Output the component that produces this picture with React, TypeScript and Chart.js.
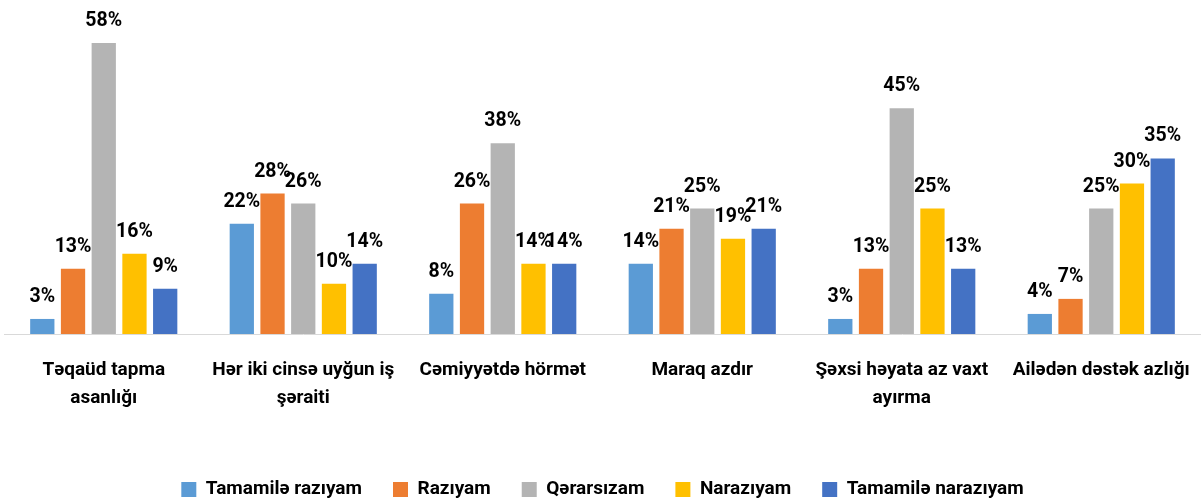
import React, { useEffect, useRef } from "react";
import { Chart, registerables } from "chart.js";

Chart.register(...registerables);

const categories: string[][] = [
  ["Təqaüd tapma", "asanlığı"],
  ["Hər iki cinsə uyğun iş", "şəraiti"],
  ["Cəmiyyətdə hörmət"],
  ["Maraq azdır"],
  ["Şəxsi həyata az vaxt", "ayırma"],
  ["Ailədən dəstək azlığı"],
];

const seriesNames = [
  "Tamamilə razıyam",
  "Razıyam",
  "Qərarsızam",
  "Narazıyam",
  "Tamamilə narazıyam",
];

const tamamileRaziyam = [3, 22, 8, 14, 3, 4];
const raziyam = [13, 28, 26, 21, 13, 7];
const qerarsizam = [58, 26, 38, 25, 45, 25];
const naraziyam = [16, 10, 14, 19, 25, 30];
const tamamileNaraziyam = [9, 14, 14, 21, 13, 35];

const seriesColors = ["#5B9BD5", "#ED7D31", "#B4B4B4", "#FFC000", "#4472C4"];

const FONT = "Roboto, sans-serif";

const valueLabels = {
  id: "valueLabels",
  afterDatasetsDraw(chart: any) {
    const ctx = chart.ctx;
    ctx.save();
    ctx.font = `bold 19.5px ${FONT}`;
    ctx.fillStyle = "#000000";
    ctx.textAlign = "center";
    ctx.textBaseline = "alphabetic";
    chart.data.datasets.forEach((ds: any, i: number) => {
      const meta = chart.getDatasetMeta(i);
      meta.data.forEach((bar: any, j: number) => {
        ctx.fillText(`${ds.data[j]}%`, bar.x, bar.y - 17);
      });
    });
    ctx.restore();
  },
};

export default function App() {
  const canvasRef = useRef<HTMLCanvasElement | null>(null);

  useEffect(() => {
    document.body.style.margin = "0";
    const canvas = canvasRef.current;
    if (!canvas) return;
    const allSeries = [tamamileRaziyam, raziyam, qerarsizam, naraziyam, tamamileNaraziyam];
    const chart = new Chart(canvas, {
      type: "bar",
      data: {
        labels: categories,
        datasets: allSeries.map((d, i) => ({
          label: seriesNames[i],
          data: d,
          backgroundColor: seriesColors[i],
          borderWidth: 0,
          categoryPercentage: 0.77,
          barPercentage: 0.79,
        })),
      },
      options: {
        animation: false,
        responsive: false,
        maintainAspectRatio: false,
        devicePixelRatio: 1,
        layout: { padding: { top: 33, left: 4, right: 0, bottom: -6 } },
        plugins: {
          legend: {
            position: "bottom",
            labels: {
              boxWidth: 15,
              boxHeight: 15,
              padding: 31,
              color: "#000000",
              font: { family: FONT, size: 19, weight: "bold" },
            },
          },
          tooltip: { enabled: false },
        },
        scales: {
          x: {
            grid: { display: false },
            border: { display: true, color: "#D9D9D9", width: 1 },
            ticks: {
              color: "#000000",
              padding: 14,
              maxRotation: 0,
              autoSkip: false,
              font: { family: FONT, size: 19, weight: "bold", lineHeight: 1.47 },
            },
            afterFit: (scale: any) => {
              scale.height = 115;
              scale.paddingLeft = 0;
              scale.paddingRight = 0;
            },
          },
          y: {
            display: false,
            min: 0,
            max: 60,
          },
        },
      },
      plugins: [valueLabels],
    });
    return () => chart.destroy();
  }, []);

  return (
    <div style={{ width: 1201, height: 503, background: "#ffffff" }}>
      <canvas ref={canvasRef} width={1201} height={503} style={{ display: "block" }} />
    </div>
  );
}
